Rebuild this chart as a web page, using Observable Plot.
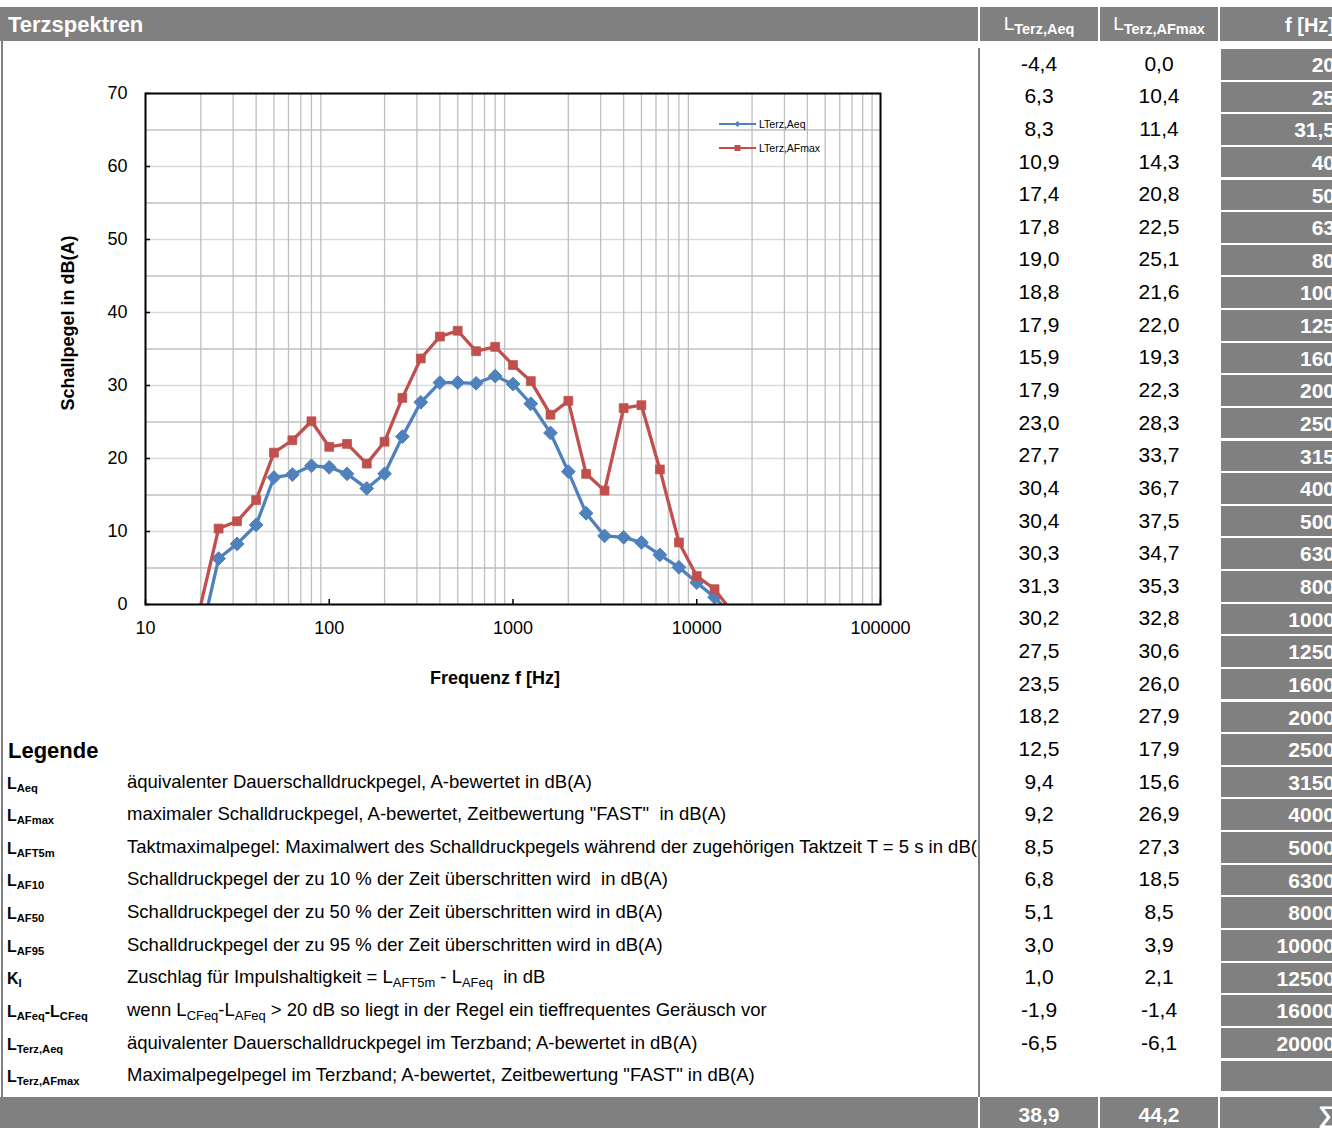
<!DOCTYPE html>
<html>
<head>
<meta charset="utf-8">
<script src="https://cdn.jsdelivr.net/npm/d3@7"></script>
<script src="https://cdn.jsdelivr.net/npm/@observablehq/plot@0.6"></script>
<style>
  html, body { margin: 0; padding: 0; background: #fff; }
  body { width: 1332px; height: 1128px; overflow: hidden; position: relative;
         font-family: "Liberation Sans", Arial, sans-serif; color: #000; }
  .abs { position: absolute; }
  .bar { position: absolute; background: #808080; }
  .sep { position: absolute; background: #fff; width: 2px; }
  .vline { position: absolute; background: #808080; width: 2px; }
  .hdr { position: absolute; color: #fff; white-space: nowrap; }
  .cell { position: absolute; white-space: nowrap; text-align: center; font-size: 21px; }
  .fbox { position: absolute; background: #808080; color: #fff; font-weight: bold;
          font-size: 21px; text-align: right; white-space: nowrap; }
  .sym { position: absolute; left: 7px; font-weight: bold; font-size: 16px; white-space: nowrap; }
  .sym sub, .desc sub { font-size: 0.7em; vertical-align: -0.3em; line-height: 0; }
  .desc { position: absolute; left: 127px; font-size: 18.5px; white-space: pre; }
  #legend-area { position: absolute; left: 0; top: 0; width: 977px; height: 1097px; overflow: hidden; }
  #chart { position: absolute; left: 0; top: 45px; }
  #chart-legend { position: absolute; left: 712px; top: 112px; }
</style>
</head>
<body>
<div id="legend-area"></div>
<div id="chart"></div>
<svg id="chart-legend" width="130" height="48"></svg>
<script>
// Third-octave band centre frequencies and their printed labels
const freqs = [20, 25, 31.5, 40, 50, 63, 80, 100, 125, 160, 200, 250, 315, 400, 500, 630, 800,
  1000, 1250, 1600, 2000, 2500, 3150, 4000, 5000, 6300, 8000, 10000, 12500, 16000, 20000];
const freqLabels = ["20", "25", "31,5", "40", "50", "63", "80", "100", "125", "160", "200", "250",
  "315", "400", "500", "630", "800", "1000", "1250", "1600", "2000", "2500", "3150", "4000",
  "5000", "6300", "8000", "10000", "12500", "16000", "20000"];

// Band levels in dB(A)
const lAeq = [-4.4, 6.3, 8.3, 10.9, 17.4, 17.8, 19.0, 18.8, 17.9, 15.9, 17.9, 23.0, 27.7, 30.4,
  30.4, 30.3, 31.3, 30.2, 27.5, 23.5, 18.2, 12.5, 9.4, 9.2, 8.5, 6.8, 5.1, 3.0, 1.0, -1.9, -6.5];
const lAFmax = [0.0, 10.4, 11.4, 14.3, 20.8, 22.5, 25.1, 21.6, 22.0, 19.3, 22.3, 28.3, 33.7, 36.7,
  37.5, 34.7, 35.3, 32.8, 30.6, 26.0, 27.9, 17.9, 15.6, 26.9, 27.3, 18.5, 8.5, 3.9, 2.1, -1.4, -6.1];

// Overall levels
const totalAeq = 38.9;
const totalAFmax = 44.2;

// Axis ticks
const xTicks = [10, 100, 1000, 10000, 100000];
const yTicks = [0, 10, 20, 30, 40, 50, 60, 70];
const yGridMajor = [10, 20, 30, 40, 50, 60];
const yGridHalf = [5, 15, 25, 35, 45, 55, 65];

// Legend entries
const legendTitle = "Legende";
const legendSymbols = [
  "L<sub>Aeq</sub>", "L<sub>AFmax</sub>", "L<sub>AFT5m</sub>", "L<sub>AF10</sub>", "L<sub>AF50</sub>",
  "L<sub>AF95</sub>", "K<sub>I</sub>", "L<sub>AFeq</sub>-L<sub>CFeq</sub>", "L<sub>Terz,Aeq</sub>",
  "L<sub>Terz,AFmax</sub>"];
const legendTexts = [
  "äquivalenter Dauerschalldruckpegel, A-bewertet in dB(A)",
  "maximaler Schalldruckpegel, A-bewertet, Zeitbewertung \"FAST\"  in dB(A)",
  "Taktmaximalpegel: Maximalwert des Schalldruckpegels während der zugehörigen Taktzeit T = 5 s in dB(A)",
  "Schalldruckpegel der zu 10 % der Zeit überschritten wird  in dB(A)",
  "Schalldruckpegel der zu 50 % der Zeit überschritten wird in dB(A)",
  "Schalldruckpegel der zu 95 % der Zeit überschritten wird in dB(A)",
  "Zuschlag für Impulshaltigkeit = L<sub>AFT5m</sub> - L<sub>AFeq</sub>  in dB",
  "wenn L<sub>CFeq</sub>-L<sub>AFeq</sub> > 20 dB so liegt in der Regel ein tieffrequentes Geräusch vor",
  "äquivalenter Dauerschalldruckpegel im Terzband; A-bewertet in dB(A)",
  "Maximalpegelpegel im Terzband; A-bewertet, Zeitbewertung \"FAST\" in dB(A)"];

const colAeq = "#4F81BD";
const colAFmax = "#C0504D";

// ---------- sheet layout ----------
const ROW = 32.63;       // row pitch of the sheet
const ROW0 = 64;         // centre of the first band row
const body = document.body;
function el(tag, cls, css, html) {
  const e = document.createElement(tag);
  if (cls) e.className = cls;
  Object.assign(e.style, css || {});
  if (html != null) e.innerHTML = html;
  return e;
}

// header bar
body.appendChild(el("div", "bar", {left: "0px", top: "7px", width: "1332px", height: "34px"}));
body.appendChild(el("div", "hdr", {left: "8px", top: "7px", height: "34px", lineHeight: "36px",
  fontSize: "22px", fontWeight: "bold"}, "Terzspektren"));
for (const x of [978, 1098, 1218]) body.appendChild(el("div", "sep", {left: x + "px", top: "7px", height: "34px"}));
body.appendChild(el("div", "hdr", {left: "980px", width: "118px", top: "7px", height: "34px", lineHeight: "34px",
  textAlign: "center", fontSize: "19px"}, 'L<b style="font-size:14.5px;vertical-align:-4px">Terz,Aeq</b>'));
body.appendChild(el("div", "hdr", {left: "1100px", width: "118px", top: "7px", height: "34px", lineHeight: "34px",
  textAlign: "center", fontSize: "19px"}, 'L<b style="font-size:14.5px;vertical-align:-4px">Terz,AFmax</b>'));
body.appendChild(el("div", "hdr", {left: "1221px", width: "114px", top: "7px", height: "34px", lineHeight: "36px",
  textAlign: "right", fontSize: "20px", fontWeight: "bold"}, "f [Hz]"));

// sheet borders
body.appendChild(el("div", "vline", {left: "1px", top: "41px", height: "1057px", width: "2px"}));
body.appendChild(el("div", "vline", {left: "978px", top: "48px", height: "1050px"}));

// band table
freqs.forEach((f, i) => {
  const cy = ROW0 + ROW * i;
  body.appendChild(el("div", "cell", {left: "980px", width: "118px", top: (cy - ROW / 2) + "px",
    height: ROW + "px", lineHeight: ROW + "px"}, lAeq[i].toFixed(1).replace(".", ",")));
  body.appendChild(el("div", "cell", {left: "1100px", width: "118px", top: (cy - ROW / 2) + "px",
    height: ROW + "px", lineHeight: ROW + "px"}, lAFmax[i].toFixed(1).replace(".", ",")));
  body.appendChild(el("div", "fbox", {left: "1221px", width: "114px", top: (cy - 15) + "px",
    height: "30.5px", lineHeight: "31px"}, freqLabels[i]));
});
// empty closing box under the last band
body.appendChild(el("div", "fbox", {left: "1221px", width: "114px",
  top: (ROW0 + ROW * freqs.length - 15) + "px", height: "30.5px"}, ""));

// totals bar
body.appendChild(el("div", "bar", {left: "0px", top: "1097px", width: "1332px", height: "31px"}));
for (const x of [978, 1098, 1218]) body.appendChild(el("div", "sep", {left: x + "px", top: "1097px", height: "31px"}));
body.appendChild(el("div", "hdr", {left: "980px", width: "118px", top: "1097px", lineHeight: "36px",
  textAlign: "center", fontSize: "21px", fontWeight: "bold"}, totalAeq.toFixed(1).replace(".", ",")));
body.appendChild(el("div", "hdr", {left: "1100px", width: "118px", top: "1097px", lineHeight: "36px",
  textAlign: "center", fontSize: "21px", fontWeight: "bold"}, totalAFmax.toFixed(1).replace(".", ",")));
body.appendChild(el("div", "hdr", {left: "1221px", width: "114px", top: "1097px", lineHeight: "36px",
  textAlign: "right", fontSize: "24px", fontWeight: "bold"}, "∑"));

// legend block
const legendArea = document.getElementById("legend-area");
legendArea.appendChild(el("div", "abs", {left: "8px", top: (ROW0 + ROW * 21 - ROW / 2 + 2) + "px",
  height: ROW + "px", lineHeight: ROW + "px", fontSize: "22px", fontWeight: "bold"}, legendTitle));
legendSymbols.forEach((s, j) => {
  const top = ROW0 + ROW * (22 + j) - ROW / 2;
  legendArea.appendChild(el("div", "sym", {top: (top + 2) + "px", height: ROW + "px", lineHeight: ROW + "px"}, s));
  legendArea.appendChild(el("div", "desc", {top: top + "px", height: ROW + "px", lineHeight: ROW + "px"}, legendTexts[j]));
});

// ---------- chart ----------
const bands = freqs.map((f, i) => ({f, aeq: lAeq[i], afmax: lAFmax[i]}));
// vertical grid on the 2..9 subdivisions of each decade
const xGridMinor = d3.scaleLog().domain([10, 100000]).ticks()
  .filter(v => Math.abs(Math.log10(v) - Math.round(Math.log10(v))) > 1e-9);

const chart = Plot.plot({
  width: 975,
  height: 660,
  marginLeft: 145,
  marginRight: 95,
  marginTop: 48,
  marginBottom: 101,
  style: {fontFamily: "'Liberation Sans', Arial, sans-serif", fontSize: "18px", color: "#000", background: "transparent", overflow: "visible"},
  x: {type: "log", domain: [10, 100000]},
  y: {domain: [0, 70]},
  marks: [
    Plot.gridY(yGridMajor, {stroke: "#d9d9d9", strokeOpacity: 1, strokeWidth: 1.3}),
    Plot.gridY(yGridHalf, {stroke: "#bfbfbf", strokeOpacity: 1, strokeWidth: 1.3}),
    Plot.gridX(xGridMinor, {stroke: "#bfbfbf", strokeOpacity: 1, strokeWidth: 1.3}),
    Plot.line(bands, {x: "f", y: "aeq", stroke: colAeq, strokeWidth: 3.3, clip: true}),
    Plot.dot(bands.filter(d => d.aeq > 0), {x: "f", y: "aeq", symbol: "diamond2", r: 6.2, fill: colAeq, stroke: colAeq, strokeWidth: 1}),
    Plot.line(bands, {x: "f", y: "afmax", stroke: colAFmax, strokeWidth: 3.3, clip: true}),
    Plot.dot(bands.filter(d => d.afmax > 0), {x: "f", y: "afmax", symbol: "square", r: 5, fill: colAFmax, stroke: colAFmax, strokeWidth: 0.8}),
    Plot.frame({stroke: "#000", strokeWidth: 2}),
    Plot.axisX(xTicks, {tickSize: -5, tickPadding: 22, tickFormat: d => String(d), label: null, strokeWidth: 1.5}),
    Plot.axisY(yTicks, {tickSize: -5, tickPadding: 23, label: null, strokeWidth: 1.5}),
    Plot.text(["Frequenz f [Hz]"], {frameAnchor: "bottom", textAnchor: "middle", dx: -18, dy: 79, fontWeight: "bold", fontSize: 18}),
    Plot.text(["Schallpegel in dB(A)"], {frameAnchor: "left", textAnchor: "middle", rotate: -90, dx: -77, dy: -26, fontWeight: "bold", fontSize: 18})
  ]
});
document.getElementById("chart").appendChild(chart);

// series key inside the plot area
const key = d3.select("#chart-legend");
const keyRows = [
  {label: "LTerz,Aeq", color: colAeq, shape: "diamond", y: 12},
  {label: "LTerz,AFmax", color: colAFmax, shape: "square", y: 36}
];
for (const k of keyRows) {
  key.append("line").attr("x1", 7).attr("x2", 44).attr("y1", k.y).attr("y2", k.y)
    .attr("stroke", k.color).attr("stroke-width", 2.2);
  if (k.shape === "diamond") {
    key.append("path").attr("d", `M25.5,${k.y - 3}L28.5,${k.y}L25.5,${k.y + 3}L22.5,${k.y}Z`).attr("fill", k.color);
  } else {
    key.append("rect").attr("x", 22.5).attr("y", k.y - 3).attr("width", 6).attr("height", 6).attr("fill", k.color);
  }
  key.append("text").attr("x", 47).attr("y", k.y).attr("dy", "0.35em")
    .attr("font-family", "'Liberation Sans', Arial, sans-serif").attr("font-size", 10.5).attr("fill", "#000")
    .text(k.label);
}
</script>
</body>
</html>
